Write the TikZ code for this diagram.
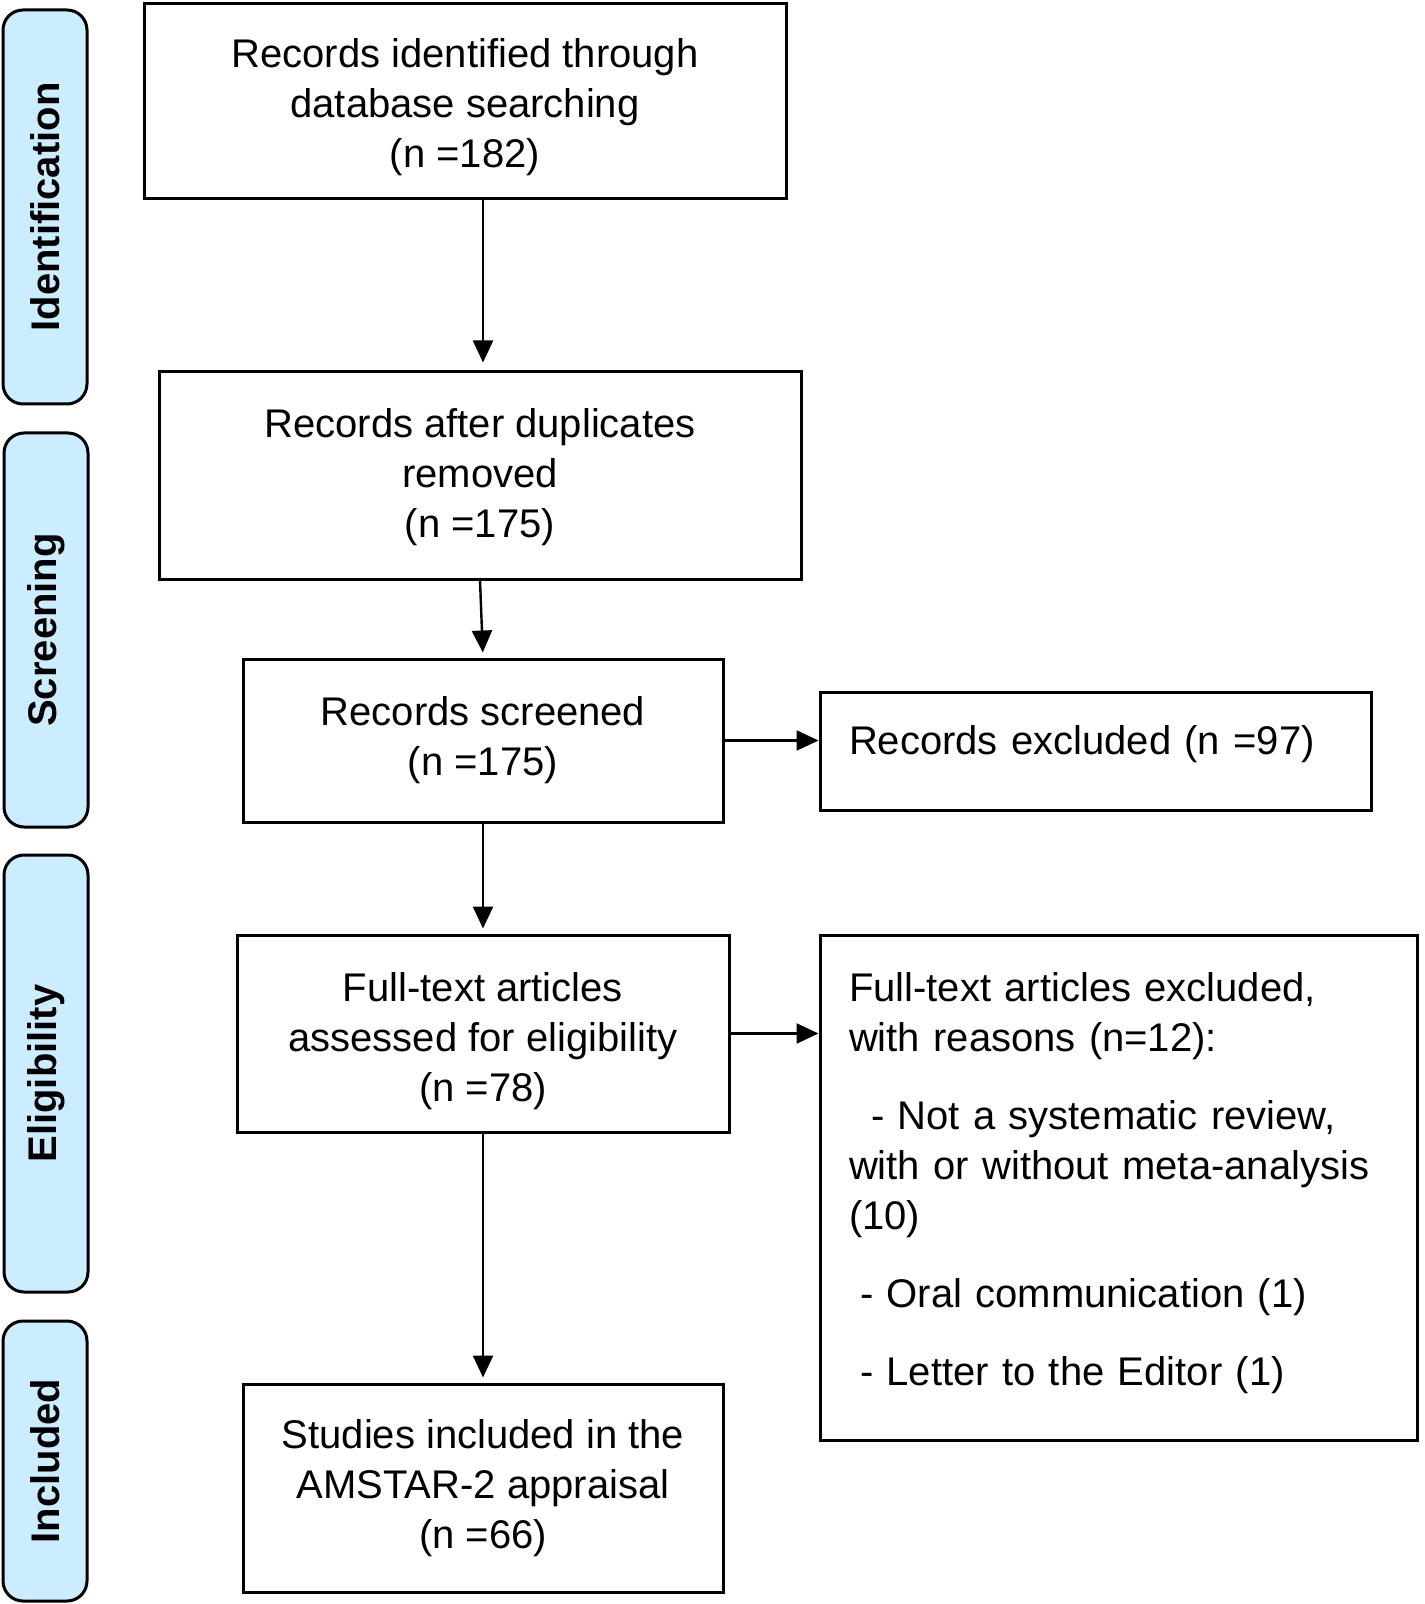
\documentclass[tikz,border=0pt]{standalone}
\usepackage{fontspec}
\setmainfont{Liberation Sans}
\usetikzlibrary{arrows.meta}
\definecolor{tabblue}{RGB}{204,236,255}

\begin{document}
\begin{tikzpicture}[x=0.5pt,y=-0.5pt]
\tikzstyle{every node}+=[inner sep=0pt, font=\fontsize{20}{25}\selectfont]
\tikzstyle{stage}=[draw=black, line width=1.5pt, fill=tabblue, rounded corners=10pt, rotate=90, minimum height=42pt, font=\fontsize{20}{25}\selectfont\bfseries]
\tikzstyle{box}=[draw=black, line width=1.5pt, align=center]
\tikzstyle{side}=[draw=black, line width=1.5pt, align=left, inner xsep=14.5pt]
\tikzstyle{arr}=[draw=black, line width=1.2pt, -{Triangle[length=11pt,width=10pt]}]
\useasboundingbox (0,0) rectangle (1424,1604);
\node [stage, minimum width=197pt] (tabident) at (45,207) {Identification};
\node [stage, minimum width=197pt] (tabscreen) at (46,630) {Screening};
\node [stage, minimum width=218.5pt] (tabelig) at (46,1073.5) {Eligibility};
\node [stage, minimum width=140pt] (tabincl) at (45,1461) {Included};
\node [box, minimum width=321pt, minimum height=97.5pt] (records) at (465,101.5) {\rule{0pt}{20.6pt}Records identified through\\database searching\\(n =182)};
\node [box, minimum width=321pt, minimum height=103.5pt] (dedup) at (480,475.5) {\rule{0pt}{16.6pt}Records after duplicates\\removed\\(n =175)};
\node [box, minimum width=240pt, minimum height=81.5pt] (screened) at (483,740.5) {Records screened\\(n =175)};
\node [side, text width=246.5pt, minimum height=59pt, text height=15pt, text depth=12pt] (excluded) at (1095.5,751) {Records excluded (n =97)};
\node [box, minimum width=246pt, minimum height=98.5pt] (fulltext) at (483,1033.5) {\rule{0pt}{22.6pt}Full-text articles\\assessed for eligibility\\(n =78)};
\node [side, text width=269.5pt, minimum height=252.5pt] (reasons) at (1118.5,1187.5) {Full-text articles excluded,\\with reasons (n=12):\\[14pt]\hspace*{11pt}- Not a systematic review,\\with or without meta-analysis\\(10)\\[14pt]\hspace*{5.5pt}- Oral communication (1)\\[14pt]\hspace*{5.5pt}- Letter to the Editor (1)\rule[-8.2pt]{0pt}{8.2pt}};
\node [box, minimum width=240pt, minimum height=104pt] (included) at (483,1488) {Studies included in the\\AMSTAR-2 appraisal\\(n =66)};
\draw [arr, shorten >=4pt] (records.south -| fulltext.north) -- (dedup.north -| fulltext.north);
\draw [arr, shorten >=2.5pt] (dedup.south) -- (screened.north);
\draw [arr, shorten >=2.5pt] (screened) -- (fulltext);
\draw [arr, shorten >=2.5pt] (fulltext) -- (included);
\draw [arr] (screened.east) -- (screened.east -| excluded.west);
\draw [arr] (fulltext.east) -- (fulltext.east -| reasons.west);
\end{tikzpicture}
\end{document}
